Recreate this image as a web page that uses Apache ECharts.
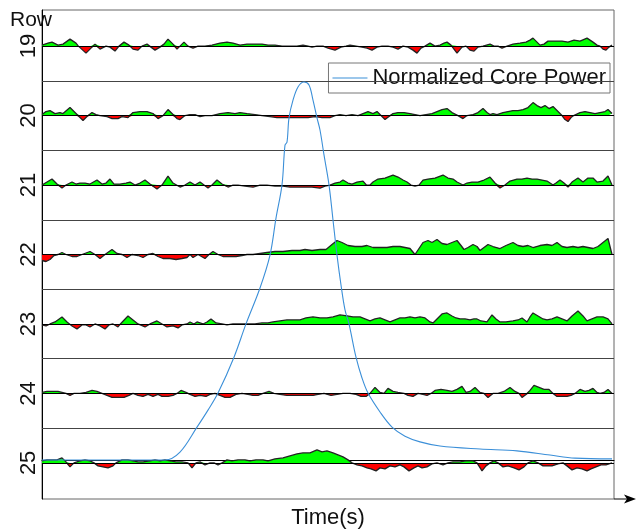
<!DOCTYPE html>
<html><head><meta charset="utf-8">
<script src="https://cdn.jsdelivr.net/npm/echarts@6/dist/echarts.min.js"></script>
<style>html,body{margin:0;padding:0;background:#fff}#c{width:636px;height:529px}</style>
</head><body><div id="c"></div>
<script>
// ---- data ----
const rows = [19, 20, 21, 22, 23, 24, 25];
const xName = 'Time(s)';
const yName = 'Row';
const legendName = 'Normalized Core Power';

// [time, deviation] per row (deviation in arbitrary units, 69.5 units = one row spacing)
const row19 = [[0,1],[6,3],[10,4],[16,1],[21,2],[28,7],[34,3],[38,-2],[44,-7],[49,-2],[53,2],[58,-3],[64,0],[68,-1],[73,-5],[77,0],[82,4],[87,1],[91,-3],[96,-4],[100,0],[105,2],[109,-1],[113,-4],[118,-1],[122,2],[126,7],[131,2],[135,-3],[138,0],[142,4],[146,0],[151,-2],[156,0],[163,0],[170,1],[178,3],[185,4],[191,3],[198,1],[205,2],[213,2],[220,2],[226,1],[233,1],[240,0],[248,0],[255,0],[261,1],[266,0],[270,-1],[275,0],[281,0],[286,-2],[293,-4],[299,-1],[304,0],[308,1],[314,0],[320,-1],[325,-2],[330,-4],[335,-1],[340,0],[346,0],[351,-1],[356,-3],[361,0],[366,-1],[371,-4],[375,-7],[379,-2],[383,0],[388,3],[393,0],[398,1],[402,3],[405,4],[409,1],[415,-7],[420,-1],[424,0],[428,-4],[432,-5],[436,-1],[441,0],[448,2],[452,0],[456,0],[460,-2],[465,0],[471,2],[478,3],[484,4],[488,6],[491,8],[495,4],[498,1],[502,2],[506,5],[513,5],[520,5],[526,4],[532,6],[538,5],[545,8],[548,6],[551,4],[555,1],[558,0],[561,-3],[564,-4],[567,-1],[570,1]];
const row20 = [[0,1],[4,4],[8,5],[13,2],[18,3],[21,2],[28,8],[34,2],[38,-2],[41,-5],[45,-1],[50,3],[54,1],[58,0],[65,-1],[70,-3],[76,-3],[80,-1],[86,-2],[91,3],[98,4],[105,4],[111,2],[116,-3],[121,0],[126,6],[130,2],[135,-3],[138,-4],[143,0],[148,1],[153,1],[158,-1],[163,0],[170,0],[178,2],[186,3],[193,2],[198,3],[205,2],[213,1],[220,0],[228,-1],[235,-2],[243,-2],[250,-2],[258,-2],[266,-2],[273,-1],[280,-2],[288,-2],[293,0],[298,1],[304,0],[310,1],[316,0],[321,2],[326,4],[331,2],[335,4],[339,0],[343,-4],[347,-1],[351,2],[356,3],[362,3],[368,2],[373,1],[378,0],[384,1],[390,2],[395,4],[400,6],[405,7],[410,3],[416,0],[421,-3],[425,0],[431,1],[436,3],[441,7],[445,3],[448,1],[451,2],[455,1],[461,3],[466,4],[471,5],[476,5],[481,6],[486,8],[491,13],[495,10],[499,8],[503,10],[507,7],[511,9],[515,5],[520,0],[523,-4],[526,-6],[529,-2],[533,1],[538,3],[543,4],[548,3],[553,2],[558,3],[563,4],[566,6],[570,2]];
const row21 = [[0,0],[5,3],[10,6],[15,1],[20,-3],[24,0],[30,3],[34,1],[38,2],[43,2],[48,1],[55,5],[60,1],[64,2],[68,6],[72,1],[78,1],[84,2],[88,3],[93,0],[98,2],[103,5],[108,1],[115,-4],[120,0],[126,9],[131,2],[138,-2],[143,0],[148,3],[153,0],[158,3],[162,0],[166,-3],[170,0],[175,5],[180,1],[186,-2],[191,0],[196,0],[203,-1],[211,-2],[218,0],[225,0],[233,-1],[241,-1],[248,-2],[256,-2],[263,-2],[270,-2],[278,-3],[283,-1],[288,0],[293,2],[298,3],[301,5],[306,2],[310,1],[315,3],[321,4],[326,-2],[331,3],[336,6],[343,7],[351,10],[356,8],[361,5],[365,3],[369,0],[373,-1],[377,0],[381,5],[386,6],[393,7],[401,10],[406,7],[411,6],[415,3],[421,0],[425,2],[430,3],[436,3],[442,5],[448,8],[453,2],[458,-3],[463,0],[468,4],[475,6],[480,6],[485,7],[490,6],[495,6],[500,5],[505,4],[511,0],[514,2],[518,5],[522,2],[526,-2],[530,3],[536,7],[541,3],[546,7],[551,7],[555,3],[561,4],[566,9],[570,0]];
const row22 = [[0,-6],[4,-7],[8,-5],[12,-1],[16,0],[20,2],[24,0],[30,-2],[35,-2],[40,0],[48,3],[53,0],[58,-4],[63,0],[70,5],[75,1],[80,0],[85,-3],[90,0],[96,-1],[101,-3],[106,0],[111,1],[116,-2],[121,-4],[128,-4],[134,-5],[140,-4],[145,-3],[148,0],[151,-3],[156,0],[163,-4],[167,0],[171,3],[176,0],[181,-2],[188,-2],[194,-2],[200,-1],[205,0],[211,0],[218,1],[225,2],[233,3],[241,3],[250,4],[258,4],[263,5],[270,4],[278,5],[284,5],[290,10],[295,14],[300,12],[306,9],[313,8],[320,8],[325,9],[331,7],[338,7],[345,7],[351,8],[358,8],[363,7],[368,6],[373,0],[377,6],[381,12],[386,14],[390,12],[395,15],[400,11],[405,10],[410,12],[415,14],[419,9],[422,5],[426,7],[431,10],[435,8],[438,4],[442,7],[446,10],[451,8],[458,6],[464,9],[471,12],[476,9],[481,8],[486,9],[491,7],[498,9],[505,10],[510,9],[515,12],[520,8],[525,7],[531,8],[536,7],[541,8],[546,7],[551,6],[556,8],[561,12],[566,16],[570,0]];
const row23 = [[0,-1],[4,-2],[8,0],[13,2],[20,7],[25,2],[30,-2],[35,-5],[40,-1],[44,-1],[48,-3],[53,0],[58,-2],[63,-5],[67,-1],[71,0],[76,-3],[80,2],[86,8],[91,4],[96,0],[103,-3],[108,0],[115,3],[120,0],[125,-3],[131,-2],[136,-4],[140,-1],[145,0],[148,2],[152,0],[155,2],[161,0],[165,2],[169,5],[174,1],[180,0],[185,-1],[191,0],[198,0],[206,0],[213,0],[220,1],[226,1],[231,2],[238,3],[245,4],[253,4],[258,4],[264,6],[271,7],[278,6],[285,6],[291,7],[298,9],[305,8],[311,7],[318,7],[323,5],[328,3],[333,5],[338,6],[343,4],[348,2],[353,4],[358,6],[363,6],[368,7],[373,6],[378,7],[383,6],[388,2],[391,1],[396,6],[400,10],[405,11],[410,8],[414,6],[418,5],[423,5],[428,4],[432,5],[435,5],[439,3],[445,2],[450,9],[454,5],[458,2],[464,2],[471,3],[476,4],[480,6],[485,2],[488,7],[491,11],[496,8],[501,5],[505,4],[510,5],[515,7],[520,5],[525,3],[530,8],[536,13],[541,8],[545,3],[550,5],[555,7],[561,7],[566,5],[570,0]];
const row24 = [[0,1],[5,2],[10,2],[16,2],[20,1],[24,0],[28,-2],[32,0],[38,0],[44,1],[50,3],[55,2],[60,0],[65,-2],[70,-4],[76,-4],[82,-4],[87,-2],[91,0],[96,-2],[101,-3],[106,-1],[111,-3],[116,-1],[120,-3],[126,-3],[131,-2],[135,0],[139,3],[144,1],[148,-1],[153,-3],[158,-2],[164,-3],[168,-1],[173,0],[178,-2],[183,-4],[188,-4],[194,-1],[200,0],[206,-1],[211,-2],[216,-2],[221,0],[227,2],[232,0],[238,-1],[245,-2],[251,-2],[258,-2],[264,-2],[271,-2],[276,-1],[282,0],[289,-2],[295,-1],[301,0],[308,0],[314,-1],[319,-3],[324,-3],[328,0],[333,6],[338,1],[342,0],[346,5],[351,2],[356,1],[362,0],[366,-2],[371,-3],[376,0],[381,-1],[385,-2],[389,0],[393,3],[399,4],[405,3],[410,2],[415,4],[420,7],[424,1],[428,2],[433,6],[438,1],[442,0],[446,-4],[451,0],[456,0],[462,2],[468,6],[473,2],[477,0],[480,-4],[484,-1],[488,3],[492,8],[497,6],[502,4],[507,4],[511,0],[515,-3],[520,-3],[525,-3],[529,-2],[533,0],[538,4],[543,2],[547,3],[551,5],[555,1],[558,0],[562,1],[566,4],[570,0]];
const row25 = [[0,2],[5,3],[10,3],[15,3],[20,5],[24,1],[28,-4],[32,0],[38,2],[43,3],[48,2],[52,0],[56,-3],[61,-4],[66,-5],[71,-3],[75,1],[80,3],[86,3],[91,2],[96,1],[101,1],[108,2],[113,3],[118,2],[123,3],[128,2],[134,1],[140,1],[146,0],[150,-5],[154,0],[158,1],[163,-2],[168,0],[172,0],[176,-2],[180,0],[185,3],[190,2],[196,3],[203,3],[208,2],[214,3],[221,3],[226,2],[233,4],[241,5],[248,7],[255,9],[261,10],[268,10],[275,13],[280,11],[285,12],[291,10],[296,8],[301,6],[306,3],[310,0],[315,-2],[320,-3],[325,-5],[329,-6],[334,-8],[338,-5],[343,-6],[348,-3],[353,-4],[358,-2],[362,-4],[367,-8],[372,-5],[376,-3],[380,-5],[385,-4],[390,-1],[395,0],[401,-2],[406,0],[411,1],[418,1],[424,2],[431,2],[435,0],[440,-8],[444,-3],[448,0],[452,2],[456,0],[461,-4],[466,-3],[472,-5],[477,-7],[482,-4],[486,0],[491,2],[496,0],[501,-3],[505,-3],[510,-3],[516,-1],[521,0],[525,-3],[530,-7],[535,-5],[540,-6],[545,-8],[549,-6],[554,-4],[559,-2],[564,-2],[570,0]];

// [time, normalized power]
const power = [[0,0],[123,0],[138,0.021],[155,0.087],[166,0.132],[176,0.177],[192,0.272],[204,0.36],[218,0.455],[228,0.542],[234,0.64],[240,0.728],[243,0.833],[245,0.841],[247,0.905],[251,0.952],[256,0.987],[262,1.0],[267,0.992],[271,0.952],[275,0.905],[278,0.873],[282,0.807],[287,0.728],[291,0.635],[295,0.542],[299,0.463],[303,0.397],[307,0.36],[314,0.272],[320,0.217],[326,0.177],[338,0.127],[350,0.087],[363,0.063],[378,0.048],[398,0.037],[438,0.029],[475,0.024],[508,0.013],[533,0.005],[570,0.003]];

// ---- chart ----
const rowData = [row19, row20, row21, row22, row23, row24, row25];
const DEV_PER_ROW = 69.5;
const FONT = 'Liberation Sans, Arial, sans-serif';
const GREEN = '#00ff00', RED = '#ff0000', BLUE = '#3b8fd8';
const separators = rows.slice(0, -1).map(r => r + 0.5);

// add the baseline crossing points so that the green / red fills meet the outline exactly
function withCrossings(arr) {
  const out = [];
  for (let k = 0; k < arr.length; k++) {
    const [t, d] = arr[k];
    if (k > 0) {
      const [t0, d0] = arr[k - 1];
      if (d0 * d < 0) out.push([t0 + (t - t0) * d0 / (d0 - d), 0]);
    }
    out.push([t, d]);
  }
  return out;
}

const series = [];
rows.forEach((r, i) => {
  const pts = withCrossings(rowData[i]);
  series.push({
    type: 'line', silent: true, symbol: 'none', z: 2,
    data: pts.map(p => [p[0], r - Math.max(p[1], 0) / DEV_PER_ROW]),
    lineStyle: { opacity: 0, width: 0 }, areaStyle: { color: GREEN, opacity: 1, origin: r }
  });
  series.push({
    type: 'line', silent: true, symbol: 'none', z: 2,
    data: pts.map(p => [p[0], r - Math.min(p[1], 0) / DEV_PER_ROW]),
    lineStyle: { opacity: 0, width: 0 }, areaStyle: { color: RED, opacity: 1, origin: r }
  });
  const ml = [{ yAxis: r, lineStyle: { color: '#000', width: 1, type: 'solid' } }];
  if (i === 0) separators.forEach(s => ml.push({ yAxis: s, lineStyle: { color: '#444', width: 1, type: 'solid' } }));
  series.push({
    type: 'line', silent: true, symbol: 'none', z: 3,
    data: pts.map(p => [p[0], r - p[1] / DEV_PER_ROW]),
    lineStyle: { color: '#222', width: 1.3 },
    markLine: { symbol: ['none', 'none'], silent: true, animation: false, label: { show: false }, data: ml }
  });
});
series.push({
  type: 'line', name: legendName, xAxisIndex: 0, yAxisIndex: 1,
  data: power, symbol: 'none', smooth: 0.35, z: 6,
  lineStyle: { color: BLUE, width: 1.1 }, itemStyle: { color: BLUE }
});

const chart = echarts.init(document.getElementById('c'), null, { renderer: 'canvas' });
chart.setOption({
  animation: false,
  backgroundColor: '#fff',
  title: { text: yName, left: 5, top: 5, textStyle: { fontSize: 21, fontWeight: 'normal', color: '#111', fontFamily: FONT } },
  grid: { left: 42, right: 22, top: 10, bottom: 30, show: true, borderColor: '#666', borderWidth: 1, backgroundColor: 'transparent', outerBoundsMode: 'none', containLabel: false },
  legend: {
    data: [{ name: legendName, icon: 'rect' }], right: 26, top: 63, backgroundColor: '#fff', borderColor: '#777', borderWidth: 1,
    padding: [4, 4, 4, 4], itemWidth: 35, itemHeight: 1.2,
    textStyle: { fontSize: 22, color: '#111', fontFamily: FONT }
  },
  xAxis: {
    type: 'value', min: 0, max: 572,
    axisLine: { show: true, lineStyle: { color: '#000', width: 1 } },
    axisTick: { show: false }, axisLabel: { show: false }, splitLine: { show: false },
    name: xName, nameLocation: 'middle', nameGap: 8,
    nameTextStyle: { fontSize: 22, color: '#111', fontFamily: FONT, verticalAlign: 'top' }
  },
  yAxis: [{
    type: 'value', inverse: true, min: 18.48, max: 25.52,
    axisLine: { show: true, lineStyle: { color: '#000', width: 1 } },
    axisTick: { show: false }, splitLine: { show: false },
    axisLabel: { customValues: rows, rotate: 90, fontSize: 22, color: '#111', fontFamily: FONT, margin: 2 }
  }, {
    type: 'value', min: -0.1032, max: 1.1905, show: false
  }],
  graphic: [
    { type: 'line', shape: { x1: 614, y1: 499, x2: 630, y2: 499 }, style: { stroke: '#000', lineWidth: 1 }, z: 10 },
    { type: 'polygon', shape: { points: [[636, 499], [624, 494.5], [627, 499], [624, 503.5]] }, style: { fill: '#000' }, z: 10 }
  ],
  series: series
});
</script></body></html>
